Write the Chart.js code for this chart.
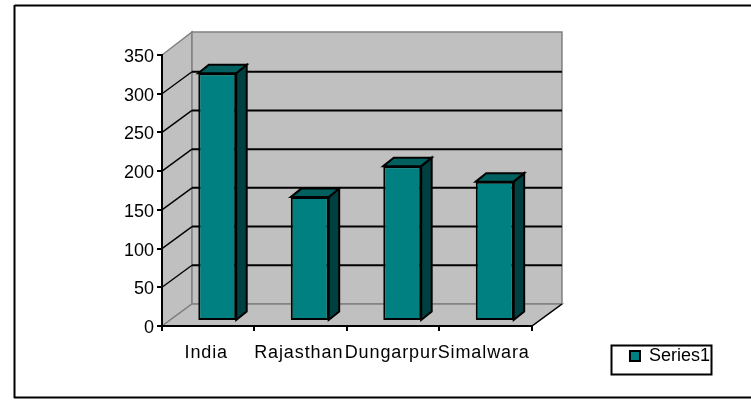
<!DOCTYPE html>
<html><head><meta charset="utf-8">
<style>html,body{margin:0;padding:0;background:#fff}canvas{display:block}</style>
<script src="https://cdn.jsdelivr.net/npm/chart.js@4"></script>
</head><body><canvas id="c" width="751" height="401"></canvas>
<script>
const categories = ["India", "Rajasthan", "Dungarpur", "Simalwara"];
const seriesName = "Series1";
const seriesValues = [320, 160, 200, 180];
const yTicks = [0, 50, 100, 150, 200, 250, 300, 350];

const WALL = {dx: 30, dy: -22}, BAR_SHIFT = {dx: 9, dy: -5}, BAR_DEPTH = {dx: 10.5, dy: -8.5};
const FONT = {family: '"Liberation Sans", Arial, sans-serif', size: 18};
const LEGEND_FRAME = [611.5, 345.5, 100, 29];

const scene3d = {
  id: 'scene3d',
  beforeDraw(chart) {
    const c = chart.ctx, {left, right, top, bottom} = chart.chartArea, y = chart.scales.y;
    const poly = (pts, fill, stroke, w) => {
      c.beginPath(); pts.forEach((p, i) => i ? c.lineTo(p[0], p[1]) : c.moveTo(p[0], p[1])); c.closePath();
      if (fill) { c.fillStyle = fill; c.fill(); }
      if (stroke) { c.strokeStyle = stroke; c.lineWidth = w || 1; c.stroke(); }
    };
    const seg = (x1, y1, x2, y2, col, w) => {
      c.beginPath(); c.moveTo(x1, y1); c.lineTo(x2, y2);
      c.strokeStyle = col; c.lineWidth = w; c.stroke();
    };
    c.save();
    // outer chart frame: open on the right
    seg(14.5, 5.5, 751, 5.5, '#000', 2);
    seg(14.5, 5, 14.5, 398, '#000', 2);
    seg(14, 397.5, 751, 397.5, '#000', 2);
    const {dx, dy} = WALL, wt = top + dy - 1;
    poly([[left, top], [left + dx, wt], [left + dx, bottom + dy], [left, bottom]], '#C0C0C0', '#808080', 1.5);
    poly([[left + dx, wt], [right + dx, wt], [right + dx, bottom + dy], [left + dx, bottom + dy]], '#C0C0C0', '#808080', 1.5);
    poly([[left, bottom], [left + dx, bottom + dy], [right + dx, bottom + dy], [right, bottom]], '#C0C0C0', '#808080', 1.5);
    yTicks.slice(1, -1).forEach(v => {
      const p = y.getPixelForValue(v);
      seg(left + dx, p + dy, right + dx, p + dy, '#000', 2);
      seg(left, p, left + dx, p + dy, '#000', 1.4);
    });
    seg(right, bottom, right + dx, bottom + dy, '#000', 1.4);
    c.strokeStyle = '#000'; c.lineWidth = 2;
    c.strokeRect(...LEGEND_FRAME);
    c.restore();
  },
  beforeDatasetsDraw(chart) {
    const c = chart.ctx;
    c.save();
    c.translate(BAR_SHIFT.dx, BAR_SHIFT.dy);
    c.lineWidth = 2; c.strokeStyle = '#000'; c.lineJoin = 'miter';
    chart.getDatasetMeta(0).data.forEach(b => {
      const l = b.x - b.width / 2, r = b.x + b.width / 2, t = b.y, bt = b.base;
      const {dx, dy} = BAR_DEPTH;
      c.beginPath(); c.moveTo(r, t); c.lineTo(r + dx, t + dy); c.lineTo(r + dx, bt + dy); c.lineTo(r, bt); c.closePath();
      c.fillStyle = '#004040'; c.fill(); c.stroke();
      c.beginPath(); c.moveTo(l, t); c.lineTo(l + dx, t + dy); c.lineTo(r + dx, t + dy); c.lineTo(r, t); c.closePath();
      c.fillStyle = '#006060'; c.fill(); c.stroke();
    });
  },
  afterDatasetsDraw(chart) { chart.ctx.restore(); }
};

new Chart(document.getElementById('c'), {
  type: 'bar',
  data: {labels: categories, datasets: [{
    label: seriesName, data: seriesValues, clip: false,
    backgroundColor: '#008080', borderColor: '#000', borderWidth: 2, borderSkipped: false,
    barPercentage: 0.82, categoryPercentage: 0.5
  }]},
  options: {
    responsive: false, animation: false,
    layout: {padding: {left: 0, top: 55, right: 31, bottom: 22}},
    plugins: {
      tooltip: {enabled: false},
      legend: {position: 'right', align: 'end',
        labels: {boxWidth: 10, boxHeight: 10, padding: 14, color: '#000', font: FONT,
          generateLabels: ch => [{text: seriesName, fillStyle: '#008080', strokeStyle: '#000', lineWidth: 2, datasetIndex: 0}]}}
    },
    scales: {
      x: {
        offset: true,
        border: {color: '#000', width: 2},
        grid: {drawOnChartArea: false, drawTicks: true, tickLength: 5, color: '#000', lineWidth: 2, offset: true},
        ticks: {color: '#000', font: FONT, padding: 11, labelOffset: -2, autoSkip: false, maxRotation: 0},
        afterFit(s) { s.height = 53; },
        afterUpdate(s) {
          const draw = Object.getPrototypeOf(s).drawLabels;
          s.drawLabels = function (area) {
            const ctx = this.ctx, prev = ctx.letterSpacing;
            ctx.letterSpacing = '0.9px';
            draw.call(this, area);
            ctx.letterSpacing = prev;
          };
        }
      },
      y: {
        min: 0, max: 350,
        border: {color: '#000', width: 2},
        grid: {drawOnChartArea: false, tickLength: 5, color: '#000', lineWidth: 2},
        ticks: {color: '#000', font: FONT, padding: 3, labelOffset: 2, stepSize: 50, callback: v => yTicks.includes(v) ? String(v) : ''},
        afterFit(s) { s.width = 162; }
      },
      spacer: {
        position: 'right', display: true, axis: 'y', min: 0, max: 1,
        border: {display: false}, grid: {display: false}, ticks: {display: false},
        afterFit(s) { s.width = 84; }
      }
    }
  },
  plugins: [scene3d]
});
</script></body></html>
